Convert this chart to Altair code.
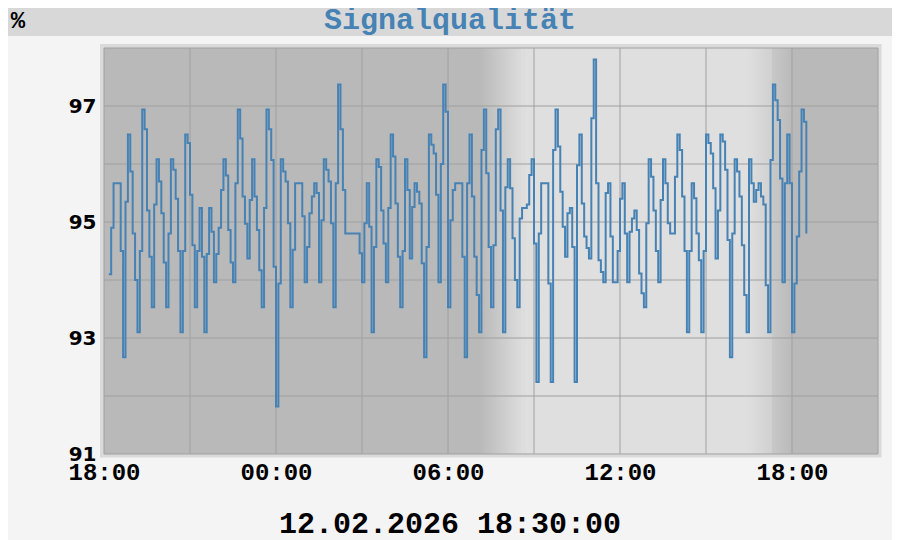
import altair as alt
import pandas as pd

# ---------------- data ----------------
title_text = "Signalqualität"
unit_text = "%"
stamp_text = "12.02.2026 18:30:00"

series_start = "2026-02-11 18:10"
series_step = "5min"
quality = [
    94.10, 94.90, 95.67, 95.67, 95.67, 94.50, 92.67, 95.35, 96.51, 95.87,
    94.80, 94.00, 93.10, 94.50, 96.94, 96.60, 95.20, 94.40, 93.53, 95.30,
    96.08, 95.70, 95.15, 94.30, 93.53, 94.80, 96.08, 95.90, 95.40, 94.50,
    93.10, 94.50, 96.51, 96.36, 95.47, 94.60, 93.53, 94.50, 95.24, 94.40,
    93.10, 94.45, 95.24, 94.83, 93.96, 94.45, 94.90, 95.55, 96.08, 95.80,
    94.86, 94.30, 93.96, 95.67, 96.94, 96.44, 95.44, 94.97, 94.37, 95.38,
    96.08, 95.44, 94.86, 94.17, 93.53, 95.24, 96.94, 96.60, 96.07, 94.23,
    91.82, 93.94, 96.08, 95.87, 95.70, 94.98, 93.53, 94.52, 95.67, 95.67,
    95.67, 95.10, 93.96, 94.57, 95.15, 95.44, 95.67, 95.50, 93.96, 95.03,
    96.08, 95.90, 95.70, 94.98, 93.53, 95.67, 97.37, 96.60, 95.55, 94.80,
    94.80, 94.80, 94.80, 94.80, 94.80, 94.46, 93.96, 94.98, 95.67, 94.92,
    93.10, 94.57, 96.08, 95.95, 95.20, 94.63, 93.96, 95.24, 96.51, 96.13,
    95.32, 94.40, 93.53, 94.50, 96.08, 95.55, 94.37, 95.26, 95.67, 95.52,
    95.32, 94.29, 92.67, 94.57, 96.51, 96.33, 96.18, 95.47, 93.96, 96.00,
    97.37, 96.90, 93.53, 95.03, 95.55, 95.67, 95.67, 95.67, 94.40, 92.67,
    95.67, 96.51, 95.44, 94.40, 93.74, 93.10, 96.24, 96.94, 95.84, 94.57,
    93.53, 94.60, 96.60, 96.94, 95.20, 93.10, 95.60, 96.08, 95.58, 94.72,
    94.00, 93.53, 95.06, 95.24, 95.24, 95.30, 95.81, 96.08, 94.63, 92.24,
    94.80, 95.67, 95.67, 95.67, 93.94, 92.24, 96.24, 96.94, 96.30, 95.52,
    94.92, 94.40, 95.15, 95.24, 94.57, 92.24, 95.98, 96.51, 95.32, 94.75,
    94.55, 94.37, 96.79, 97.80, 95.67, 94.34, 94.14, 93.96, 95.50, 95.67,
    94.75, 93.96, 93.96, 94.50, 95.40, 95.67, 94.80, 93.96, 94.83, 95.06,
    95.20, 94.86, 94.11, 93.77, 93.53, 94.98, 96.08, 95.78, 95.20, 94.50,
    93.96, 95.38, 96.08, 95.67, 94.98, 94.80, 94.80, 95.78, 96.51, 96.24,
    95.44, 94.50, 93.10, 94.50, 95.67, 95.41, 94.80, 94.34, 93.10, 94.50,
    96.51, 96.36, 96.18, 95.58, 94.37, 95.20, 96.51, 96.39, 95.90, 94.69,
    92.67, 94.80, 96.08, 95.87, 95.44, 94.60, 93.74, 93.10, 96.08, 95.67,
    95.35, 95.55, 95.67, 95.44, 95.30, 93.91, 93.10, 96.07, 97.37, 97.10,
    96.76, 95.75, 93.96, 95.67, 96.51, 95.67, 93.10, 93.94, 94.75, 95.87,
    96.94, 96.73, 94.80,
]

axis_start = "2026-02-11 18:00"
axis_end = "2026-02-12 21:00"
grid_step = "3h"
label_step = "6h"
y_grid = [91, 92, 93, 94, 95, 96, 97, 98]
y_labels = [91, 93, 95, 97]
y_domain = [91, 98]

# daylight phases: (start, end)
dawn = ["2026-02-12T07:07:00", "2026-02-12T08:41:00"]
daylight = ["2026-02-12T08:41:00", "2026-02-12T16:28:00"]
dusk = ["2026-02-12T16:28:00", "2026-02-12T18:03:00"]

# ---------------- styling ----------------
W, H = 774, 406
NIGHT = "#b9b9b9"
DAY = "#dfdfdf"
GRID = "#a0a0a0"
LINE = "#4682b4"
MONO = "Liberation Mono"

fmt = "%Y-%m-%dT%H:%M:%S"
times = pd.date_range(series_start, periods=len(quality), freq=series_step)
df = pd.DataFrame({"time": times.strftime(fmt), "quality": quality})

grid_times = pd.date_range(axis_start, axis_end, freq=grid_step).strftime(fmt)
label_times = pd.date_range(axis_start, "2026-02-12 18:00", freq=label_step)

xs = alt.Scale(domain=[pd.Timestamp(axis_start).strftime(fmt), pd.Timestamp(axis_end).strftime(fmt)], nice=False)
ys = alt.Scale(domain=y_domain, nice=False, zero=False)

x_axis = alt.Axis(
    values=[alt.DateTime(year=t.year, month=t.month, date=t.day, hours=t.hour) for t in label_times],
    format="%H:%M", title=None, grid=False, ticks=False, domain=False,
    labelFont=MONO, labelFontSize=24, labelFontWeight="bold", labelColor="#000000",
    labelFlush=False, labelOverlap=False, labelPadding=6)
y_axis = alt.Axis(values=y_labels, title=None, grid=False, ticks=False, domain=False,
                  labelFont="DejaVu Sans", labelFontSize=20, labelFontWeight="bold",
                  labelColor="#000000", labelPadding=8, labelFlush=False, labelOverlap=False)

one = pd.DataFrame({"k": [0]})

frame = alt.Chart(one).mark_rect(color="#dadada").encode(
    x=alt.value(-4), x2=alt.value(W + 3.5), y=alt.value(-4), y2=alt.value(H + 3.5))
night = alt.Chart(one).mark_rect(color=NIGHT).encode(
    x=alt.value(0), x2=alt.value(W), y=alt.value(0), y2=alt.value(H))


def band(span, fill):
    d = pd.DataFrame({"s": [span[0]], "e": [span[1]]})
    return alt.Chart(d).mark_rect(color=fill).encode(
        x=alt.X("s:T", scale=xs, axis=x_axis), x2="e:T",
        y=alt.value(0), y2=alt.value(H))


g_dawn = alt.LinearGradient(gradient="linear", x1=0, x2=1, y1=0, y2=0, stops=[
    alt.GradientStop(color=NIGHT, offset=0), alt.GradientStop(color=DAY, offset=1)])
g_dusk = alt.LinearGradient(gradient="linear", x1=0, x2=1, y1=0, y2=0, stops=[
    alt.GradientStop(color=DAY, offset=0), alt.GradientStop(color="#d0d0d0", offset=0.52),
    alt.GradientStop(color="#c8c8c8", offset=0.53), alt.GradientStop(color=NIGHT, offset=1)])

vgrid = alt.Chart(pd.DataFrame({"t": grid_times})).mark_rule(color=GRID, strokeWidth=1).encode(
    x=alt.X("t:T", scale=xs, axis=x_axis))
hgrid = alt.Chart(pd.DataFrame({"v": y_grid})).mark_rule(color=GRID, strokeWidth=1).encode(
    y=alt.Y("v:Q", scale=ys, axis=y_axis))

line = alt.Chart(df).mark_line(interpolate="step-after", color=LINE, strokeWidth=2).encode(
    x=alt.X("time:T", scale=xs, axis=x_axis),
    y=alt.Y("quality:Q", scale=ys, axis=y_axis))

title_band = alt.Chart(one).mark_rect(color="#d8d8d8").encode(
    x=alt.value(-110), x2=alt.value(900), y=alt.value(-60), y2=alt.value(-12))


def label(txt, x, y, size, color):
    return alt.Chart(pd.DataFrame({"txt": [txt]})).mark_text(
        font=MONO, fontSize=size, fontWeight="bold", color=color,
        align="center", baseline="alphabetic").encode(
        text="txt:N", x=alt.value(x), y=alt.value(y))


chart = alt.layer(
    frame, night, band(dawn, g_dawn), band(daylight, DAY), band(dusk, g_dusk),
    vgrid, hgrid, line, title_band,
    label(title_text, 346, -19, 30, LINE),
    label(unit_text, -86, -20, 24, "#000000"),
    label(stamp_text, 346, 485, 30, "#000000"),
).properties(
    width=W, height=H, autosize="none",
    padding={"left": 96, "top": 40, "right": 14, "bottom": 86},
).configure(background="#f4f4f4").configure_view(stroke=None)

chart.save("out.html", embed_options={"renderer": "svg", "actions": False})
